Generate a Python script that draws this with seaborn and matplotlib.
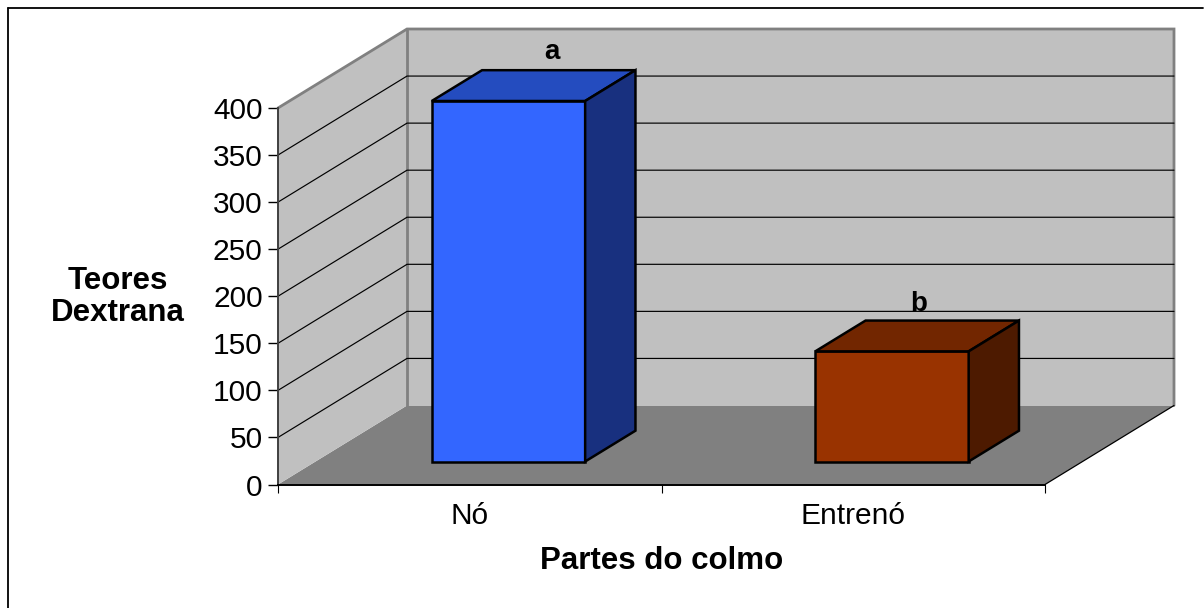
import matplotlib
matplotlib.use("Agg")
import matplotlib.pyplot as plt
import pandas as pd
import seaborn as sns
from matplotlib.patches import Polygon

# Dextran content by stalk part
partes = ["Nó", "Entrenó"]
teores = [383, 117]
letras = ["a", "b"]
cores_frente = ["#3366FF", "#993300"]
cores_topo = ["#244CBF", "#722600"]
cores_lado = ["#18307F", "#4D1A00"]
marcas_y = [0, 50, 100, 150, 200, 250, 300, 350, 400]

W, H = 1204, 608
sns.set_theme(style="white")
plt.rcParams["font.family"] = ["Liberation Sans", "DejaVu Sans"]

fig = plt.figure(figsize=(W / 100, H / 100), dpi=100, facecolor="white")
ax = fig.add_axes([278 / W, (H - 484.5) / H, 767 / W, 376.5 / H])
ax.patch.set_alpha(0)

df = pd.DataFrame({"parte": partes, "teor": teores})
sns.barplot(data=df, x="parte", y="teor", hue="parte", order=partes, hue_order=partes,
            palette=cores_frente, width=0.4, legend=False, saturation=1,
            edgecolor="black", linewidth=1.8, ax=ax, zorder=5)
barras = list(ax.patches)
ax.set_xlim(-0.5, 1.5)
ax.set_ylim(0, 400)

# Oblique projection: depth 1 reaches the back wall of the chart box
px_x = 2.0 / 767
px_y = 400 / 376.5
DX, DY = 129 * px_x, 79 * px_y


def proj(x, y, d):
    return (x + d * DX, y + d * DY)


x0, x1 = ax.get_xlim()
cinza_borda = "#808080"

# Floor, walls and their outlines
ax.add_patch(Polygon([proj(x0, 0, 0), proj(x1, 0, 0), proj(x1, 0, 1), proj(x0, 0, 1)],
                     fc="#808080", ec="none", clip_on=False, zorder=1))
ax.add_patch(Polygon([proj(x0, 0, 0), proj(x0, 400, 0), proj(x0, 400, 1), proj(x0, 0, 1)],
                     fc="#C0C0C0", ec="none", clip_on=False, zorder=1))
ax.add_patch(Polygon([proj(x0, 0, 1), proj(x0, 400, 1), proj(x1, 400, 1), proj(x1, 0, 1)],
                     fc="#C0C0C0", ec="none", clip_on=False, zorder=1))
for pts in ([proj(x0, 400, 0), proj(x0, 400, 1), proj(x1, 400, 1), proj(x1, 0, 1)],
            [proj(x0, 400, 1), proj(x0, 0, 1)]):
    ax.plot(*zip(*pts), color=cinza_borda, lw=2.0, clip_on=False, zorder=2,
            solid_joinstyle="miter")
ax.plot(*zip(proj(x1, 0, 0), proj(x1, 0, 1)), color="black", lw=0.9, clip_on=False, zorder=2)

# Gridlines run along the left wall and across the back wall
for v in marcas_y[1:-1]:
    pts = [proj(x0, v, 0), proj(x0, v, 1), proj(x1, v, 1)]
    ax.plot(*zip(*pts), color="black", lw=0.85, clip_on=False, zorder=3)

# Bar faces: shift each front to its depth, then build top and side from it
D_FRENTE, D_FUNDO = 0.30, 0.69
ELEVACAO = 23 * px_y
DESVIO_LETRA = [(-5, 8), (-17.3, 7)]
for i, patch in enumerate(barras):
    xa = patch.get_x()
    w = patch.get_width()
    h = patch.get_height()
    patch.set_xy((proj(xa, 0, D_FRENTE)[0], ELEVACAO))
    patch.set_clip_on(False)
    patch.set_joinstyle("miter")
    kw = dict(ec="black", lw=1.8, clip_on=False, zorder=5, joinstyle="miter")
    base = ELEVACAO - D_FRENTE * DY
    ax.add_patch(Polygon([proj(xa, h + base, D_FRENTE), proj(xa + w, h + base, D_FRENTE),
                          proj(xa + w, h + base, D_FUNDO), proj(xa, h + base, D_FUNDO)],
                         fc=cores_topo[i], **kw))
    ax.add_patch(Polygon([proj(xa + w, base, D_FRENTE), proj(xa + w, h + base, D_FRENTE),
                          proj(xa + w, h + base, D_FUNDO), proj(xa + w, base, D_FUNDO)],
                         fc=cores_lado[i], **kw))
    tx, ty = proj(xa + w / 2, h + base, D_FUNDO)
    ax.annotate(letras[i], (tx, ty), xytext=DESVIO_LETRA[i], textcoords="offset points",
                ha="center", va="baseline", fontsize=20, fontweight="bold", color="black",
                annotation_clip=False, zorder=6)

# Axes
for lado in ("top", "right"):
    ax.spines[lado].set_visible(False)
ax.spines["left"].set_color("#404040")
ax.spines["left"].set_linewidth(1.4)
ax.spines["bottom"].set_color("black")
ax.spines["bottom"].set_linewidth(1.4)
ax.spines["left"].set_zorder(4)
ax.spines["bottom"].set_zorder(4)
ax.set_yticks(marcas_y)
ax.set_xticks([0, 1], partes)
ax.set_xticks([-0.5, 0.5, 1.5], minor=True)
ax.tick_params(axis="y", which="major", left=True, length=7.5, width=1.0, color="black",
               labelsize=21.5, pad=3.5, labelcolor="black")
ax.tick_params(axis="x", which="major", bottom=False, labelsize=21.5, pad=6.5, labelcolor="black")
ax.tick_params(axis="x", which="minor", bottom=True, length=6, width=0.8, color="black")

ax.set_xlabel("Partes do colmo", fontsize=22.5, fontweight="bold", color="black")
ax.xaxis.set_label_coords((662 - 278) / 767, -(561 - 484.5) / 376.5)
ax.xaxis.label.set_verticalalignment("center")
ax.set_ylabel("Teores\nDextrana", fontsize=22.5, fontweight="bold", color="black",
              rotation=0, ha="center", va="center", linespacing=1.1)
ax.yaxis.set_label_coords((118 - 278) / 767, (484.5 - 297) / 376.5)

# Outer chart frame
fig.add_artist(plt.Line2D([7.5 / W, 7.5 / W], [0, (H - 7.5) / H], color="black", lw=1.3))
fig.add_artist(plt.Line2D([7.5 / W, 1202.5 / W], [(H - 7.5) / H, (H - 7.5) / H], color="black", lw=1.3))
fig.add_artist(plt.Line2D([1203.5 / W, 1203.5 / W], [0, (H - 7.5) / H], color="#BBBBBB", lw=0.7))

fig.savefig("out.png", dpi=100, facecolor="white")
